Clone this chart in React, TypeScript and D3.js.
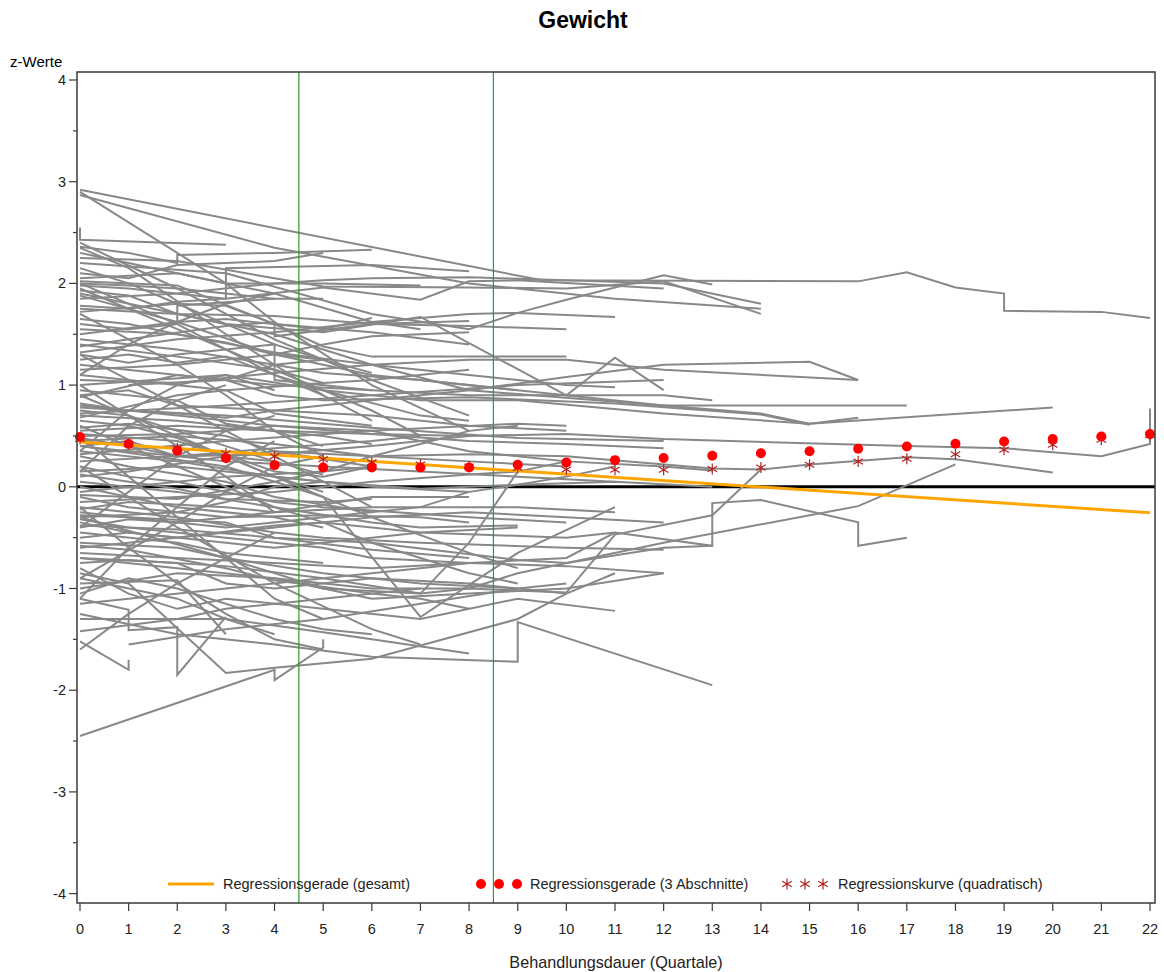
import React from "react";
import * as d3 from "d3";

// Quartale (x) ticks and z-score ticks
const xTicks = d3.range(0, 23);
const yTicks = [-4, -3, -2, -1, 0, 1, 2, 3, 4];
const yMinor = [-3.5, -2.5, -1.5, -0.5, 0.5, 1.5, 2.5, 3.5];
const phaseCuts = [4.5, 8.5];

// Regressionsgerade (gesamt): endpoints
const overallLine: [number, number][] = [
  [0, 0.44],
  [22, -0.255],
];

// Regressionsgerade (3 Abschnitte)
const segmentDots = [
  0.49, 0.42, 0.354, 0.28, 0.213, 0.19, 0.19, 0.19, 0.19, 0.216, 0.24, 0.262, 0.283,
  0.305, 0.33, 0.35, 0.374, 0.396, 0.423, 0.446, 0.469, 0.495, 0.518,
];

// Regressionskurve (quadratisch)
const quadStars = [
  0.47, 0.42, 0.38, 0.33, 0.3, 0.27, 0.24, 0.22, 0.2, 0.185, 0.17, 0.168, 0.168,
  0.174, 0.19, 0.216, 0.249, 0.275, 0.32, 0.364, 0.413, 0.462, 0.51,
];

// individual patient trajectories [quartal, z]
const patients: [number, number][][] = [
  [[0, 2.92], [9.5, 2.03], [16, 2.02], [17, 2.11], [18, 1.96], [19, 1.9], [19, 1.73], [21, 1.72], [22, 1.66]],
  [[0, 2.9], [3, 2.0], [4, 1.62], [6, 1.0], [8, 0.55]],
  [[0, 2.87], [4, 2.35], [8, 2.0], [11, 1.85], [14, 1.75]],
  [[0, 2.55], [0, 2.43], [3, 2.38]],
  [[0, 2.36], [1, 2.3], [2, 2.2], [2, 2.28], [4, 2.3], [6, 2.33]],
  [[0, 2.3], [2, 2.1], [4, 1.9], [6, 1.62], [7, 1.55]],
  [[0, 2.25], [2, 2.22], [4, 2.05], [5, 1.97], [8, 1.96], [10, 1.95], [12, 2.02], [14, 1.7]],
  [[0, 2.2], [3, 2.1], [6, 1.7], [8, 1.55], [9, 1.71], [10, 1.84], [12, 2.08], [13, 1.99]],
  [[0, 2.02], [2, 1.98], [4, 1.6], [5, 1.38], [6, 1.28], [10, 1.28]],
  [[0, 1.98], [1, 1.95], [3, 1.85], [5, 1.96], [7, 1.84], [8, 2.02], [9, 2.03], [12, 1.95]],
  [[0, 1.95], [2, 1.55], [4, 1.15], [6, 0.75], [7, 0.5]],
  [[0, 1.93], [1, 1.88], [2, 1.7], [4, 1.5], [6, 1.2], [8, 0.95], [12, 0.8], [14, 0.72], [15, 0.62], [16, 0.68]],
  [[0, 1.9], [3, 1.6], [5, 1.52], [7, 1.67], [10, 0.9], [11, 1.27], [12, 0.95]],
  [[0, 1.88], [2, 1.62], [4, 1.3], [6, 1.1], [9, 0.95], [12, 0.8], [17, 0.8]],
  [[0, 1.75], [2, 1.7], [4, 1.68], [6, 1.6], [8, 1.58], [10, 1.55]],
  [[0, 1.72], [2, 1.8], [3, 1.78], [4, 1.6], [6, 1.52], [8, 1.4]],
  [[0, 1.55], [2, 1.5], [4, 1.32], [6, 1.2], [8, 1.1], [10, 1.0], [11, 0.98]],
  [[0, 1.5], [2, 1.62], [3, 1.65], [5, 1.55], [6, 1.66]],
  [[0, 1.4], [2, 1.28], [4, 1.15], [5, 1.02]],
  [[0, 1.38], [1, 1.45], [3, 1.58], [4, 1.62], [4, 1.48], [6, 1.6], [8, 1.63]],
  [[0, 1.32], [2, 1.45], [4, 1.52], [6, 1.62], [8, 1.7], [9, 1.71], [11, 1.67]],
  [[0, 1.6], [1, 1.55], [2, 1.6], [2, 1.78], [4, 1.85], [5, 1.85]],
  [[0, 2.05], [2, 2.1], [3, 2.0], [3, 2.15], [6, 2.18], [8, 2.12]],
  [[0, 2.1], [1, 2.05], [2, 2.18], [4, 2.22], [5, 2.3]],
  [[0, 1.85], [2, 1.9], [4, 2.0], [5, 2.03], [6, 2.05], [8, 2.06], [10, 2.03], [12, 2.0], [14, 1.8]],
  [[0, 1.2], [2, 1.1], [4, 1.0], [6, 0.95], [8, 0.9], [12, 0.9], [13, 0.85]],
  [[0, 1.15], [2, 1.2], [4, 1.3], [5, 1.4], [6, 1.48], [8, 1.52]],
  [[0, 1.1], [1, 1.05], [3, 0.95], [4, 0.72], [6, 0.6]],
  [[0, 1.05], [2, 1.02], [4, 1.12], [6, 1.2], [8, 1.25], [10, 1.25], [12, 1.15], [16, 1.05]],
  [[0, 1.0], [3, 1.1], [5, 0.95], [7, 0.85], [9, 0.85], [12, 0.72], [15, 0.62], [20, 0.78]],
  [[0, 0.95], [2, 0.85], [3, 0.62], [4, 0.55], [5, 0.4]],
  [[0, 0.9], [1, 0.95], [2, 0.8], [4, 0.75], [6, 0.7], [8, 0.6], [10, 0.55]],
  [[0, 0.88], [2, 1.1], [3, 1.05], [4, 0.9], [5, 0.85], [8, 0.88], [11, 0.82], [14, 0.71], [15, 0.61]],
  [[0, 0.82], [1, 0.75], [3, 0.7], [6, 0.58], [9, 0.48], [12, 0.45]],
  [[0, 0.78], [2, 0.72], [3, 0.68], [4, 0.75], [6, 0.85], [8, 0.95], [10, 1.08], [12, 1.2], [15, 1.23], [16, 1.05]],
  [[0, 0.75], [1, 0.7], [2, 0.55], [4, 0.25], [5, 0.12]],
  [[0, 0.7], [2, 0.65], [3, 0.6], [5, 0.5], [6, 0.42]],
  [[0, 0.68], [2, 0.9], [3, 0.95], [5, 1.02], [6, 1.05], [8, 1.15]],
  [[0, 0.65], [1, 0.6], [2, 0.48], [3, 0.3], [4, 0.25]],
  [[0, 1.25], [1, 1.3], [2, 1.22], [3, 1.28], [4, 1.1], [5, 0.9]],
  [[0, 1.45], [2, 1.35], [4, 1.2], [5, 1.12], [7, 1.05], [9, 0.95]],
  [[0, 0.58], [1, 0.62], [3, 0.5], [4, 0.35], [6, 0.2]],
  [[1, 1.0], [3, 1.05], [4, 1.2], [5, 1.25]],
  [[0, 0.55], [2, 0.6], [4, 0.55], [6, 0.52], [8, 0.5], [10, 0.52], [12, 0.47], [17, 0.4], [19, 0.38], [21, 0.3], [22, 0.42], [22, 0.77]],
  [[0, 0.52], [2, 0.45], [3, 0.3], [4, 0.1], [5, -0.05]],
  [[0, 0.5], [2, 0.52], [3, 0.55], [4, 0.6], [6, 0.55], [8, 0.35], [10, 0.25], [12, 0.2], [13, 0.16]],
  [[0, 0.48], [1, 0.4], [2, 0.3], [4, 0.32], [6, 0.4], [8, 0.5]],
  [[0, 0.45], [2, 0.5], [4, 0.42], [6, 0.3], [8, 0.32], [10, 0.3], [13, 0.18], [14, 0.17], [15, 0.22], [17, 0.29], [18, 0.27], [20, 0.14]],
  [[0, 0.4], [1, 0.35], [3, 0.25], [5, 0.2], [7, 0.15], [9, 0.1], [11, 0.05]],
  [[0, 0.35], [2, 0.25], [4, 0.1], [6, 0.0], [8, -0.05]],
  [[0, 0.3], [1, 0.2], [3, 0.05], [4, -0.1], [6, -0.25]],
  [[0, 0.25], [2, 0.3], [4, 0.38], [6, 0.45], [7, 0.5]],
  [[0, 0.2], [1, 0.1], [2, 0.05], [4, -0.15], [5, -0.2], [8, -0.3], [10, -0.35]],
  [[0, 0.15], [2, 0.2], [3, 0.15], [5, 0.05], [7, -0.02], [9, 0.02], [11, 0.05], [13, 0.0]],
  [[0, 0.1], [1, 0.15], [3, 0.3], [4, 0.35], [6, 0.3], [8, 0.25], [10, 0.2]],
  [[0, 0.05], [2, -0.05], [4, -0.2], [6, -0.35], [7, -0.4], [9, -0.38]],
  [[0, 0.0], [1, -0.1], [2, -0.2], [4, -0.3], [5, -0.4]],
  [[0, -0.05], [2, 0.05], [3, 0.1], [5, 0.15], [6, 0.2]],
  [[0, -0.1], [1, -0.2], [3, -0.3], [5, -0.28], [7, -0.3], [8, -0.35]],
  [[0, -0.15], [2, -0.1], [4, -0.05], [6, 0.05], [8, 0.12], [9, 0.15]],
  [[0, -0.2], [2, -0.3], [4, -0.45], [5, -0.5], [7, -0.55], [10, -0.6], [12, -0.62]],
  [[0, -0.22], [1, -0.15], [3, -0.2], [4, -0.25], [6, -0.2], [9, -0.2], [11, -0.25]],
  [[0, -0.25], [2, -0.35], [3, -0.4], [5, -0.3], [7, -0.2], [8, -0.05], [9, 0.02], [10, 0.1], [11, 0.2]],
  [[0, -0.28], [1, -0.3], [3, -0.35], [4, -0.5], [6, -0.62], [8, -0.7]],
  [[0, -0.3], [2, -0.25], [3, -0.15], [4, 0.0], [5, 0.05]],
  [[0, -0.35], [1, -0.45], [2, -0.5], [4, -0.38], [5, -0.35], [7, -0.45], [10, -0.5], [11, -0.45]],
  [[0, -0.38], [2, -0.42], [4, -0.5], [6, -0.55], [9, -0.72], [10, -0.75], [12, -0.6], [13, -0.58]],
  [[0, -0.4], [1, -0.32], [2, -0.35], [4, -0.25], [6, -0.1], [8, -0.1]],
  [[0, -0.45], [2, -0.55], [3, -0.65], [4, -0.7], [5, -0.75]],
  [[0, -0.5], [1, -0.45], [3, -0.55], [4, -0.6], [6, -0.5], [7, -0.45], [9, -0.4]],
  [[0, -0.55], [2, -0.6], [3, -0.7], [5, -0.85], [7, -0.95], [9, -1.0]],
  [[0, -0.6], [1, -0.55], [3, -0.45], [4, -0.4], [6, -0.3], [8, -0.25], [10, -0.3], [12, -0.35]],
  [[0, 0.6], [1, 0.4], [2, 0.2], [3, 0.0], [4, -0.2], [5, -0.35], [6, -0.55], [7, -0.7], [8, -0.85], [9, -0.95]],
  [[0, 0.9], [2, 0.5], [4, 0.1], [6, -0.3], [8, -0.65], [9, -0.8]],
  [[0, 0.4], [1, 0.45], [2, 0.3], [3, 0.32], [4, 0.15], [5, 0.1], [6, 0.2]],
  [[0, -0.08], [2, -0.12], [4, 0.05], [5, 0.15], [6, 0.3], [7, 0.42], [8, 0.55], [9, 0.6]],
  [[0, 0.12], [1, 0.05], [2, -0.02], [3, -0.12], [5, -0.15], [6, -0.12]],
  [[0, -0.32], [1, -0.4], [3, -0.5], [4, -0.55], [5, -0.6], [6, -0.7], [8, -0.75], [10, -0.78], [12, -0.85]],
  [[0, -0.7], [2, -0.8], [4, -0.9], [6, -1.0], [8, -1.0], [9, -0.85], [12, -0.55], [16, -0.19], [18, 0.22]],
  [[0, -0.75], [1, -0.72], [3, -0.78], [5, -0.9], [7, -1.05], [8, -1.0], [10, -1.04], [11, -0.47], [13, -0.28], [14, 0.17]],
  [[0, -0.65], [2, -0.7], [4, -0.75], [6, -0.8], [8, -0.75], [10, -0.7], [11, -0.45], [13, -0.58], [13, -0.16], [14, -0.13], [16, -0.35], [16, -0.58], [17, -0.5]],
  [[0, -0.85], [1, -0.95], [3, -1.83], [4, -1.78], [6, -1.69], [7, -1.56], [9, -1.3], [10, -1.05], [11, -0.85]],
  [[0, -2.45], [4, -1.8], [4, -1.9], [5, -1.58], [5, -1.5]],
  [[0, -1.52], [1, -1.8], [1, -1.7]],
  [[0, -1.42], [2, -1.3], [3, -1.2], [5, -1.1], [7, -1.0]],
  [[0, -1.1], [1, -1.21], [1, -1.41], [2, -1.38], [2, -1.85], [3, -1.28]],
  [[0, -0.95], [2, -0.92], [3, -1.45]],
  [[0, -1.3], [3, -1.3], [5, -1.43], [6, -1.5], [8, -1.64]],
  [[0, -1.25], [2, -1.45], [4, -1.55], [6, -1.67], [9, -1.72], [9, -1.33], [13, -1.95]],
  [[0, -1.05], [1, -0.9], [2, -1.0], [4, -1.3], [5, -1.4], [6, -1.45]],
  [[0, -1.15], [1, -1.1], [3, -1.0], [5, -0.9], [7, -0.8], [8, -0.75]],
  [[0, -0.9], [2, -1.1], [3, -1.3], [4, -1.45]],
  [[0, -1.0], [2, -0.85], [4, -0.9], [6, -1.1], [8, -1.05], [10, -1.0], [12, -0.85]],
  [[0, -0.8], [1, -1.05], [2, -1.2], [3, -1.1], [5, -1.2], [7, -1.3], [9, -1.1], [11, -1.22]],
  [[1, -1.55], [3, -1.4], [5, -1.3], [7, -1.15], [9, -1.0], [10, -0.95]],
  [[0, -0.7], [2, -0.75], [3, -0.95], [4, -1.0], [6, -0.9], [8, -0.95], [10, -1.05]],
  [[0, -0.58], [1, -0.62], [3, -0.8], [4, -0.92], [6, -1.05], [7, -1.1], [8, -1.2]],
  [[0, 2.0], [1, 1.98], [2, 1.95], [3, 1.9], [4, 1.85]],
  [[0, 1.65], [1, 1.6], [2, 1.5], [3, 1.42], [4, 1.3], [5, 1.25]],
  [[0, 1.78], [1, 1.75], [2, 1.82], [3, 1.85], [3, 2.0], [5, 2.0], [7, 1.98]],
  [[0, 2.15], [1, 2.0], [2, 1.8], [3, 1.6], [4, 1.4], [5, 1.25], [6, 1.12]],
  [[0, 1.3], [1, 1.22], [2, 1.3], [3, 1.35], [4, 1.4], [4, 1.05], [6, 0.95]],
  [[0, 0.72], [3, 0.8], [6, 0.9], [9, 1.0], [12, 1.05]],
  [[0, 0.32], [3, 0.45], [6, 0.55], [9, 0.62], [10, 0.6]],
  [[0, 0.8], [2, 0.7], [4, 0.6], [6, 0.52], [8, 0.45], [10, 0.42], [12, 0.38]],
  [[0, 2.4], [2, 1.95], [4, 1.45], [6, 1.05], [8, 0.7]],
  [[0, 2.35], [1, 2.15], [3, 1.5], [5, 0.9], [6, 0.65]],
  [[0, 1.0], [1, 0.7], [3, 0.1], [4, -0.25]],
  [[0, -1.1], [1, -0.6], [2, -0.2], [3, 0.2], [4, 0.45]],
  [[0, -0.9], [2, -0.35], [3, -0.05], [4, 0.2], [5, 0.3]],
  [[0, 1.7], [2, 1.2], [3, 0.9], [4, 0.55], [5, 0.3]],
  [[0, 0.15], [1, 0.6], [2, 0.85], [3, 1.0]],
  [[0, -0.4], [1, -0.05], [2, 0.3], [3, 0.55], [4, 0.7]],
  [[0, 1.3], [2, 0.8], [4, 0.3], [5, 0.05], [6, -0.2]],
  [[0, 0.5], [1, 0.1], [2, -0.3], [3, -0.7], [4, -1.1], [5, -1.3]],
  [[0, 0.2], [2, -0.4], [4, -0.95], [6, -1.4], [7, -1.55]],
  [[0, -0.2], [1, -0.6], [2, -0.95], [3, -1.25], [4, -1.5], [5, -1.6]],
  [[0, -1.6], [1, -1.25], [2, -0.95], [3, -0.7], [4, -0.45]],
  [[0, 2.0], [2, 1.6], [4, 1.1], [5, 0.95], [7, 0.7], [8, 0.65]],
  [[0, 1.1], [1, 1.4], [2, 1.62], [3, 1.8], [4, 1.9]],
  [[0, 0.35], [1, 0.75], [2, 1.0], [3, 1.1], [4, 0.95]],
  [[0, -0.3], [3, -0.7], [5, -1.0], [7, -1.05], [8, -0.55], [9, 0.15], [10, 0.25]],
  [[0, 0.4], [3, 0.2], [5, -0.1], [7, -1.28], [9, -0.65], [11, -0.2]],
];

const W = 1164;
const H = 972;
const plot = { left: 77, right: 1155, top: 72, bottom: 903 };
const font = "Arial, 'Liberation Sans', sans-serif";

function star(cx: number, cy: number, s: number) {
  const a = s * 0.87;
  const b = s * 0.5;
  return `M${cx},${cy - s}L${cx},${cy + s}M${cx - a},${cy - b}L${cx + a},${cy + b}M${cx - a},${cy + b}L${cx + a},${cy - b}`;
}

export default function App() {
  const x = d3.scaleLinear().domain([0, 22]).range([80, 1150]);
  const y = d3.scaleLinear().domain([-4, 4]).range([893.6, 80]);
  const line = d3
    .line<[number, number]>()
    .x((d) => x(d[0]))
    .y((d) => y(d[1]));

  const axisColor = "#3a3a3a";
  const starColor = "#b22222";

  return (
    <svg width={W} height={H} style={{ position: "absolute", left: 0, top: 0, background: "#fff" }} fontFamily={font}>
      <text x={583} y={28} textAnchor="middle" fontSize={23} fontWeight="bold">
        Gewicht
      </text>

      {/* zero line below trajectories */}
      <line x1={plot.left} x2={plot.right} y1={y(0)} y2={y(0)} stroke="#000" strokeWidth={3} />

      <g fill="none" stroke="#888" strokeWidth={2} strokeLinejoin="miter">
        {patients.map((p, i) => (
          <path key={i} d={line(p) ?? ""} />
        ))}
      </g>

      {phaseCuts.map((c) => (
        <line key={c} x1={x(c)} x2={x(c)} y1={plot.top} y2={plot.bottom} stroke="#2f9a2f" strokeWidth={1.2} />
      ))}

      <path d={line(overallLine) ?? ""} stroke="#ffa500" strokeWidth={3} fill="none" />

      <g stroke={starColor} strokeWidth={1.2} fill="none">
        {quadStars.map((v, i) => (
          <path key={i} d={star(x(i), y(v), 5.5)} />
        ))}
      </g>
      <g fill="#ff0000">
        {segmentDots.map((v, i) => (
          <circle key={i} cx={x(i)} cy={y(v)} r={5} />
        ))}
      </g>

      {/* frame */}
      <rect
        x={plot.left}
        y={plot.top}
        width={plot.right - plot.left}
        height={plot.bottom - plot.top}
        fill="none"
        stroke={axisColor}
        strokeWidth={1.5}
      />

      {/* y axis */}
      <text x={10} y={67} fontSize={15}>
        z-Werte
      </text>
      {yTicks.map((t) => (
        <g key={t}>
          <line x1={plot.left - 8} x2={plot.left} y1={y(t)} y2={y(t)} stroke={axisColor} strokeWidth={1.2} />
          <text x={66} y={y(t)} dy="0.35em" textAnchor="end" fontSize={14.5} fill="#222">
            {t}
          </text>
        </g>
      ))}
      {yMinor.map((t) => (
        <line key={t} x1={plot.left - 4} x2={plot.left} y1={y(t)} y2={y(t)} stroke={axisColor} strokeWidth={1.2} />
      ))}

      {/* x axis */}
      {xTicks.map((t) => (
        <g key={t}>
          <line x1={x(t)} x2={x(t)} y1={plot.bottom} y2={plot.bottom + 8} stroke={axisColor} strokeWidth={1.2} />
          <text x={x(t)} y={934} textAnchor="middle" fontSize={14.5} fill="#222">
            {t}
          </text>
        </g>
      ))}
      <text x={616} y={968} textAnchor="middle" fontSize={16.2} fill="#222">
        Behandlungsdauer (Quartale)
      </text>

      {/* legend */}
      <g fontSize={14.5} fill="#222">
        <line x1={168} x2={214} y1={884} y2={884} stroke="#ffa500" strokeWidth={3} />
        <text x={223} y={889}>Regressionsgerade (gesamt)</text>
        {[481, 499, 517].map((cx) => (
          <circle key={cx} cx={cx} cy={884} r={5} fill="#ff0000" />
        ))}
        <text x={530} y={889}>Regressionsgerade (3 Abschnitte)</text>
        {[787, 805, 823].map((cx) => (
          <path key={cx} d={star(cx, 884, 5.5)} stroke={starColor} strokeWidth={1.2} fill="none" />
        ))}
        <text x={838} y={889}>Regressionskurve (quadratisch)</text>
      </g>
    </svg>
  );
}
